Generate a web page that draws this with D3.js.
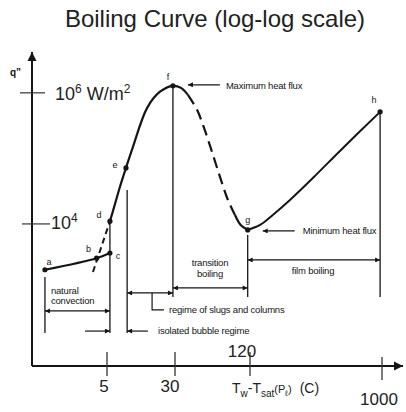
<!DOCTYPE html>
<html>
<head>
<meta charset="utf-8">
<script src="https://cdn.jsdelivr.net/npm/d3@7"></script>
<style>
  body { margin: 0; background: #fff; }
  svg { display: block; font-family: "Liberation Sans", Arial, sans-serif; }
</style>
</head>
<body>
<svg id="chart" width="406" height="412"></svg>
<script>
// x: wall superheat Tw - Tsat (C), y: heat flux q" (W/m2), both log
const xTicks = [5, 30, 120, 1000];
const yTicks = [1e4, 1e6];

// labelled points of the curve
const pointNames = ["a", "b", "c", "d", "e", "f", "g", "h"];
const pointDT = [1.32, 4.0, 5.4, 5.4, 8.24, 28.4, 115, 970];
const pointQ = [2000, 3000, 3600, 11000, 71600, 1.28e6, 8100, 513000];

// natural convection a -> c
const natDT = [1.32, 4.0, 5.4];
const natQ = [2000, 3000, 3600];
// dashed extension through b to d
const extDT = [3.7, 5.4];
const extQ = [1850, 11000];
// nucleate boiling d -> f, just past the peak
const nucDT = [5.4, 5.86, 6.86, 8.24, 9.91, 14.4, 20.2, 28.4, 33.5, 38.1];
const nucQ = [11000, 15800, 33000, 71600, 150000, 590000, 1.04e6, 1.28e6, 1.19e6, 931000];
// transition boiling (dashed part, then solid into g)
const trDT = [38.1, 45.1, 51.3, 59.4, 68.9, 79.8, 90.9];
const trQ = [931000, 550000, 292000, 126000, 52300, 23200, 13700];
const tr2DT = [90.9, 101, 115];
const tr2Q = [13700, 9660, 8100];
// film boiling g -> h
const filmDT = [115, 141, 173, 228, 341, 509, 970];
const filmQ = [8100, 9660, 13700, 23200, 54100, 130000, 513000];

// vertical guides: dT, top q, bottom q
const guideDT = [1.32, 5.4, 8.5, 28.4, 115, 970];
const guideTop = [1550, 11000, 33000, 1.28e6, 6800, 513000];
const guideBot = [217, 217, 217, 767, 767, 767];

// regime spans (double arrows)
const spanFrom = [1.32, 8.5, 28.4, 115];
const spanTo = [5.4, 28.4, 115, 970];
const spanQ = [470, 885, 1055, 2820];

const svg = d3.select("#chart");
const ink = "#151515";

const x = d3.scaleLog()
  .domain([1, 5, 30, 120, 1000, 1300])
  .range([32, 107, 175, 250, 382, 403]);
const y = d3.scaleLog()
  .domain([68, 4.2e6])
  .range([366, 52]);

// arrow heads
const defs = svg.append("defs");
function marker(id, len, wid) {
  defs.append("marker")
    .attr("id", id)
    .attr("markerUnits", "userSpaceOnUse")
    .attr("viewBox", "0 0 10 10")
    .attr("refX", 10).attr("refY", 5)
    .attr("markerWidth", len).attr("markerHeight", wid)
    .attr("orient", "auto-start-reverse")
    .append("path")
    .attr("d", "M0,0 L10,5 L0,10 Z")
    .attr("fill", ink);
}
marker("ax", 9, 12);
marker("ar", 8, 5);

// title
svg.append("text")
  .attr("x", 215).attr("y", 27)
  .attr("text-anchor", "middle")
  .attr("font-size", 24)
  .attr("fill", "#222")
  .text("Boiling Curve (log-log scale)");

// axes
svg.append("line")
  .attr("x1", x(1)).attr("y1", y(68))
  .attr("x2", x(1)).attr("y2", y(4.2e6))
  .attr("stroke", ink).attr("stroke-width", 2)
  .attr("marker-end", "url(#ax)");
svg.append("line")
  .attr("x1", x(1)).attr("y1", y(68))
  .attr("x2", x(1300)).attr("y2", y(68))
  .attr("stroke", ink).attr("stroke-width", 2)
  .attr("marker-end", "url(#ax)");

svg.append("text")
  .attr("x", 10).attr("y", 76)
  .attr("font-size", 10).attr("font-weight", "bold")
  .attr("fill", ink)
  .text("q\u201D");

// y ticks
svg.selectAll(".ytick").data(yTicks).enter()
  .append("line")
  .attr("x1", (d, i) => i == 0 ? 22 : 20)
  .attr("x2", (d, i) => i == 0 ? 50 : 45)
  .attr("y1", d => y(d)).attr("y2", d => y(d))
  .attr("stroke", "#333").attr("stroke-width", 1.2);

let lab6 = svg.append("text")
  .attr("x", 55).attr("y", y(1e6) + 7)
  .attr("font-size", 18).attr("fill", "#222");
lab6.append("tspan").text("10");
lab6.append("tspan").attr("dy", -7).attr("font-size", 12).text("6");
lab6.append("tspan").attr("dy", 7).text(" W/m");
lab6.append("tspan").attr("dy", -7).attr("font-size", 12).text("2");

let lab4 = svg.append("text")
  .attr("x", 51).attr("y", y(1e4) + 5)
  .attr("font-size", 18).attr("fill", "#222");
lab4.append("tspan").text("10");
lab4.append("tspan").attr("dy", -7).attr("font-size", 12).text("4");

// x ticks
svg.selectAll(".xtick").data(xTicks).enter()
  .append("line")
  .attr("x1", d => x(d)).attr("x2", d => x(d))
  .attr("y1", d => d == 1000 ? 357 : 352)
  .attr("y2", d => d == 1000 ? 380 : 376)
  .attr("stroke", "#333").attr("stroke-width", 1.3);

svg.selectAll(".xlab").data(xTicks).enter()
  .append("text")
  .attr("x", d => x(d) - (d == 120 ? 8 : d == 30 ? 5 : 3))
  .attr("y", d => d == 120 ? 357 : d == 1000 ? 405 : 392)
  .attr("text-anchor", "middle")
  .attr("font-size", 17).attr("fill", "#222")
  .text(d => d);

let xl = svg.append("text")
  .attr("x", 232).attr("y", 393)
  .attr("font-size", 14).attr("fill", "#222");
xl.append("tspan").text("T");
xl.append("tspan").attr("dy", 4).attr("font-size", 10).text("w");
xl.append("tspan").attr("dy", -4).text("-T");
xl.append("tspan").attr("dy", 4).attr("font-size", 10).text("sat");
xl.append("tspan").attr("dy", -4).attr("font-size", 11).text("(P");
xl.append("tspan").attr("dy", 3).attr("font-size", 8).text("\u2113");
xl.append("tspan").attr("dy", -3).attr("font-size", 11).text(")");
xl.append("tspan").attr("dx", 8).text("(C)");

// guides
svg.selectAll(".guide").data(guideDT).enter()
  .append("line")
  .attr("x1", d => x(d)).attr("x2", d => x(d))
  .attr("y1", (d, i) => y(guideTop[i]))
  .attr("y2", (d, i) => y(guideBot[i]))
  .attr("stroke", ink).attr("stroke-width", 1.3);

// curve
const line = d3.line()
  .x(d => x(d[0])).y(d => y(d[1]))
  .curve(d3.curveCatmullRom);
function seg(dt, q, dash, sw) {
  svg.append("path")
    .datum(dt.map((v, i) => [v, q[i]]))
    .attr("d", line)
    .attr("fill", "none")
    .attr("stroke", ink)
    .attr("stroke-width", sw)
    .attr("stroke-dasharray", dash);
}
seg(natDT, natQ, null, 2);
seg(extDT, extQ, "6,4", 2);
seg(nucDT, nucQ, null, 2.2);
seg(trDT, trQ, "11,6", 2.2);
seg(tr2DT, tr2Q, null, 2.2);
seg(filmDT, filmQ, null, 2);

// points + letters
const letterOff = { a: [4, -8], b: [-8, -9], c: [8, 3], d: [-11, -6], e: [-11, -3], f: [-5, -9], g: [0, -10], h: [-6, -12] };
svg.selectAll(".pt").data(pointNames).enter()
  .append("circle")
  .attr("cx", (d, i) => x(pointDT[i]))
  .attr("cy", (d, i) => y(pointQ[i]))
  .attr("r", 2.6).attr("fill", ink);
svg.selectAll(".ptl").data(pointNames).enter()
  .append("text")
  .attr("x", (d, i) => x(pointDT[i]) + letterOff[d][0])
  .attr("y", (d, i) => y(pointQ[i]) + letterOff[d][1] + 3)
  .attr("text-anchor", "middle")
  .attr("font-size", 9).attr("fill", ink)
  .text(d => d);

// regime double arrows
svg.selectAll(".span").data(spanFrom).enter()
  .append("line")
  .attr("x1", d => x(d)).attr("x2", (d, i) => x(spanTo[i]))
  .attr("y1", (d, i) => y(spanQ[i])).attr("y2", (d, i) => y(spanQ[i]))
  .attr("stroke", ink).attr("stroke-width", 1.2)
  .attr("marker-start", "url(#ar)")
  .attr("marker-end", "url(#ar)");

// single arrows for the isolated bubble regime
svg.append("line")
  .attr("x1", x(3.12)).attr("x2", x(5.4))
  .attr("y1", y(232)).attr("y2", y(232))
  .attr("stroke", ink).attr("stroke-width", 1.2)
  .attr("marker-end", "url(#ar)");
svg.append("line")
  .attr("x1", x(14.7)).attr("x2", x(8.5))
  .attr("y1", y(232)).attr("y2", y(232))
  .attr("stroke", ink).attr("stroke-width", 1.2)
  .attr("marker-end", "url(#ar)");

// bracket to slugs label
svg.append("path")
  .attr("d", `M${x(16.4)},${y(885)} V${y(487)} H${x(22.4)}`)
  .attr("fill", "none").attr("stroke", ink).attr("stroke-width", 1.2);

// heat flux callouts
const fX = x(pointDT[5]), fY = y(pointQ[5]);
const gX = x(pointDT[6]), gY = y(pointQ[6]);
svg.append("line")
  .attr("x1", fX + 47).attr("x2", fX + 15)
  .attr("y1", fY - 1).attr("y2", fY - 1)
  .attr("stroke", ink).attr("stroke-width", 1.2)
  .attr("marker-end", "url(#ar)");
svg.append("line")
  .attr("x1", gX + 47).attr("x2", gX + 15)
  .attr("y1", gY + 1).attr("y2", gY + 1)
  .attr("stroke", ink).attr("stroke-width", 1.2)
  .attr("marker-end", "url(#ar)");

const notes = [
  { t: "Maximum heat flux", x: fX + 53, y: fY + 3, a: "start" },
  { t: "Minimum heat flux", x: gX + 55, y: gY + 4, a: "start" },
  { t: "natural", x: x(1.32) + 6, y: y(470) - 17, a: "start" },
  { t: "convection", x: x(1.32) + 6, y: y(470) - 7, a: "start" },
  { t: "transition", x: x(57.3), y: y(2540) + 3, a: "middle" },
  { t: "boiling", x: x(57.3), y: y(1725) + 3, a: "middle" },
  { t: "film boiling", x: x(330), y: y(1915) + 3, a: "middle" },
  { t: "regime of slugs and columns", x: x(25.6), y: y(487) + 3, a: "start" },
  { t: "isolated bubble regime", x: x(19.2), y: y(232) + 3, a: "start" }
];
svg.selectAll(".note").data(notes).enter()
  .append("text")
  .attr("x", d => d.x).attr("y", d => d.y)
  .attr("text-anchor", d => d.a)
  .attr("font-size", 9.5).attr("fill", ink)
  .attr("letter-spacing", -0.2)
  .text(d => d.t);
</script>
</body>
</html>
